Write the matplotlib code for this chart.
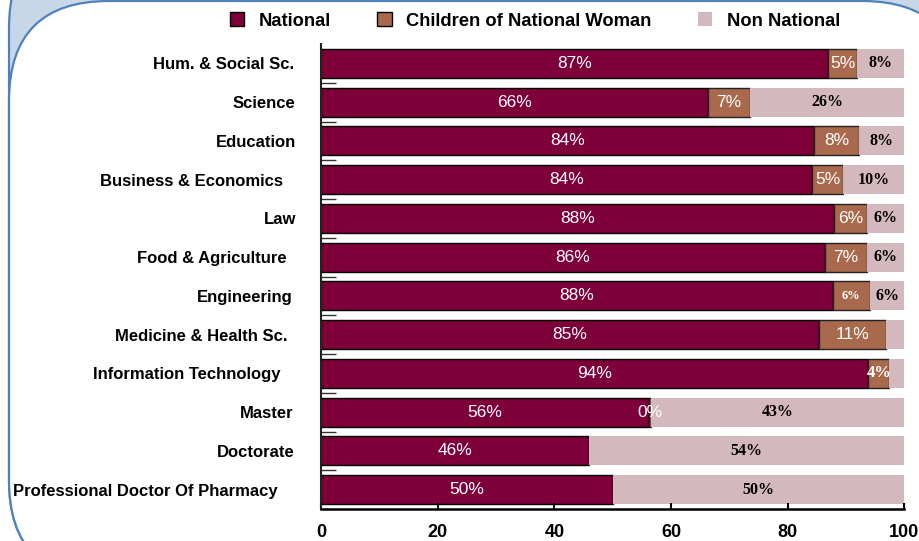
import matplotlib
matplotlib.use('Agg')
import matplotlib.pyplot as plt
from matplotlib.patches import FancyBboxPatch, Patch
from matplotlib.transforms import ScaledTranslation
import numpy as np

categories = ["Hum. & Social Sc.", "Science", "Education", "Business & Economics", "Law",
              "Food & Agriculture", "Engineering", "Medicine & Health Sc.",
              "Information Technology", "Master", "Doctorate", "Professional Doctor Of Pharmacy"]
national = [86.9, 66.4, 84.5, 84.1, 87.9, 86.4, 87.7, 85.4, 93.8, 56.2, 45.9, 50.0]
children = [5.0, 7.1, 7.7, 5.4, 5.7, 7.2, 6.4, 11.5, 3.6, 0.3, 0.0, 0.0]
non_national = [8.1, 26.5, 7.8, 10.5, 6.4, 6.4, 5.9, 3.1, 2.6, 43.5, 54.1, 50.0]

national_labels = ["87%", "66%", "84%", "84%", "88%", "86%", "88%", "85%", "94%", "56%", "46%", "50%"]
children_labels = ["5%", "7%", "8%", "5%", "6%", "7%", "6%", "11%", "4%", "0%", "", ""]
non_labels = ["8%", "26%", "8%", "10%", "6%", "6%", "6%", "", "", "43%", "54%", "50%"]

series_names = ["National", "Children of National Woman", "Non National"]
x_ticks = [0, 20, 40, 60, 80, 100]

# styles
C_NAT = '#7d0039'
C_CHI = '#a8694d'
C_NON = '#d3b8be'
BLUE = '#4f81bd'
FILL = '#c8d7e8'
children_font = [('sans', 12.5)] * 6 + [('serif', 9)] + [('sans', 12.5)] + [('serif', 12)] + [('sans', 12.5)] * 3
label_shift_px = [0, -1, -2, 12, -2, 8, 2, 7, 14, 1, 0, 17]

SANS = 'Liberation Sans'
SERIF = 'Liberation Serif'

fig = plt.figure(figsize=(9.19, 5.41), dpi=100)

# background frame
bg = fig.add_axes([0, 0, 1, 1], zorder=-10)
bg.set_xlim(0, 919)
bg.set_ylim(541, 0)
bg.axis('off')
outer = FancyBboxPatch((9, -72), 1200, 652, boxstyle="round,pad=0,rounding_size=100",
                       fc=FILL, ec=BLUE, lw=1.6)
inner = FancyBboxPatch((9, 1), 953, 579, boxstyle="round,pad=0,rounding_size=100",
                       fc='white', ec=BLUE, lw=1.6)
bg.add_patch(outer)
bg.add_patch(inner)

ax = fig.add_axes([321 / 919, 1 - 509 / 541, (904.5 - 321) / 919, 465 / 541])
ax.patch.set_alpha(0)
y = np.arange(len(categories))
nat = np.array(national)
chi = np.array(children)
non = np.array(non_national)
h = 0.75
ax.barh(y, nat, height=h, color=C_NAT, edgecolor='black', linewidth=1.0)
ax.barh(y, chi, left=nat, height=h, color=C_CHI, edgecolor='#222222', linewidth=1.0)
ax.barh(y, non, left=nat + chi, height=h, color=C_NON, edgecolor='none')

for i in range(len(categories)):
    ax.text(nat[i] / 2, y[i], national_labels[i], ha='center', va='center',
            color='white', fontsize=12.5, family=SANS)
    if children_labels[i]:
        kind, sz = children_font[i]
        if kind == 'sans':
            ax.text(nat[i] + chi[i] / 2, y[i], children_labels[i], ha='center', va='center',
                    color='white', fontsize=sz, family=SANS)
        else:
            ax.text(nat[i] + chi[i] / 2, y[i], children_labels[i], ha='center', va='center',
                    color='white', fontsize=sz, family=SERIF, fontweight='bold')
    if non_labels[i]:
        ax.text(nat[i] + chi[i] + non[i] / 2, y[i], non_labels[i], ha='center', va='center',
                color='black', fontsize=11.5, family=SERIF, fontweight='bold')

ax.set_xlim(0, 100)
ax.set_ylim(len(categories) - 0.5, -0.5)
ax.set_xticks(x_ticks)
ax.set_xticklabels([str(t) for t in x_ticks], fontsize=13, fontweight='bold', family=SANS)
ax.set_yticks(y)
ax.set_yticklabels(categories, fontsize=12, fontweight='bold', family=SANS)
ax.set_yticks(np.arange(0.5, len(categories) - 1, 1), minor=True)
ax.tick_params(axis='y', which='major', length=0, pad=19)
ax.tick_params(axis='y', which='minor', direction='in', length=11, width=1, color='#333333')
ax.tick_params(axis='x', which='major', direction='in', length=4, width=1.5, pad=11)
for s in ['top', 'right']:
    ax.spines[s].set_visible(False)
ax.spines['bottom'].set_linewidth(1.8)
ax.spines['left'].set_linewidth(1.5)
ax.spines['left'].set_color('#222222')

for lab, d in zip(ax.get_yticklabels(), label_shift_px):
    lab.set_transform(lab.get_transform() + ScaledTranslation(-d / 100, 0, fig.dpi_scale_trans))

handles = [Patch(facecolor=C_NAT, edgecolor='black', linewidth=1.0),
           Patch(facecolor=C_CHI, edgecolor='black', linewidth=1.0),
           Patch(facecolor=C_NON, edgecolor='none')]
fig.legend(handles, series_names, loc='center', bbox_to_anchor=(0.582, 0.961), ncol=3,
           frameon=False, prop={'family': SANS, 'weight': 'bold', 'size': 13.2},
           handlelength=0.8, handleheight=0.8, handletextpad=0.8, columnspacing=2.5,
           borderpad=0, borderaxespad=0)

fig.savefig('out.png', dpi=100)
